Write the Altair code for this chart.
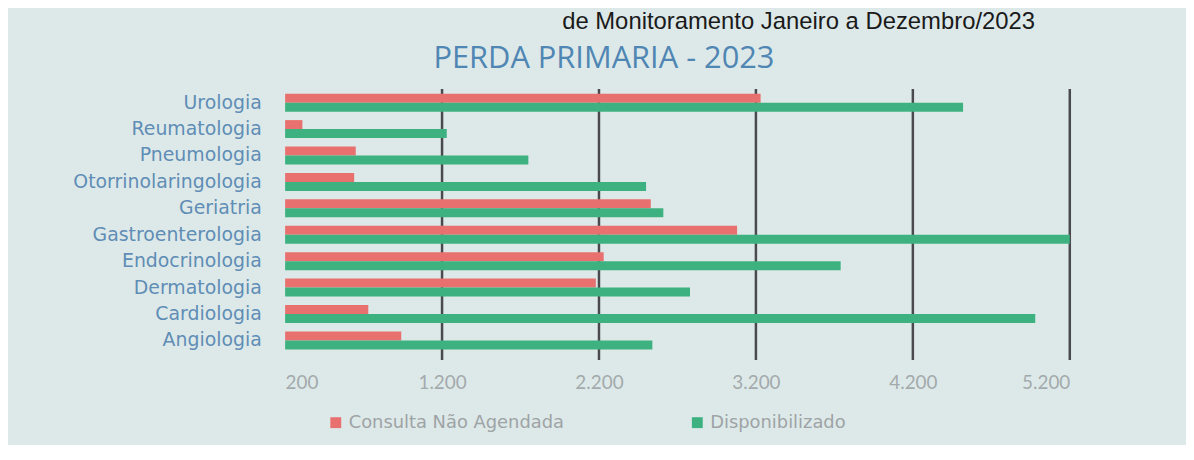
import altair as alt
import pandas as pd

categories = ["Urologia", "Reumatologia", "Pneumologia", "Otorrinolaringologia", "Geriatria",
              "Gastroenterologia", "Endocrinologia", "Dermatologia", "Cardiologia", "Angiologia"]
nao_agendada = [3230, 310, 650, 640, 2530, 3080, 2230, 2180, 730, 940]
disponibilizado = [4520, 1230, 1750, 2500, 2610, 5200, 3740, 2780, 4980, 2540]
series = ["Consulta Não Agendada", "Disponibilizado"]
colors = ["#e8716f", "#3db280"]
tick_values = [200, 1200, 2200, 3200, 4200, 5200]
grid_values = [1200, 2200, 3200, 4200, 5200]
title_text = "PERDA PRIMARIA - 2023"
header_text = "de Monitoramento Janeiro a Dezembro/2023"

rows = []
for c, a, b in zip(categories, nao_agendada, disponibilizado):
    rows.append({"cat": c, "serie": series[0], "v": a})
    rows.append({"cat": c, "serie": series[1], "v": b})
df = pd.DataFrame(rows)
grid_df = pd.DataFrame({"g": grid_values})

W, H = 790, 267

xscale = alt.Scale(domain=[200, 5200], zero=False, nice=False)

bars = alt.Chart(df).mark_bar().encode(
    y=alt.Y("cat:N", sort=categories,
            scale=alt.Scale(paddingInner=0.32, paddingOuter=0.18),
            axis=alt.Axis(title=None, ticks=False, domain=False, labelFontSize=19,
                          labelFont="DejaVu Sans", labelColor="#5f8db5", labelPadding=24,
                          labelLimit=400)),
    yOffset=alt.YOffset("serie:N", sort=series, scale=alt.Scale(paddingInner=0, paddingOuter=0)),
    x=alt.X("v:Q", scale=xscale,
            axis=alt.Axis(title=None, values=tick_values, grid=False, ticks=False, domain=False,
                          labelFontSize=19, labelFont="Lato", labelColor="#a3aaac", labelPadding=20,
                          labelExpr="replace(format(datum.value, ','), ',', '.')")),
    x2=alt.datum(200),
    color=alt.Color("serie:N", sort=series, scale=alt.Scale(domain=series, range=colors),
                    legend=alt.Legend(title=None, orient="none", legendX=42, legendY=327,
                                      direction="horizontal", symbolType="square", symbolSize=120,
                                      symbolStrokeWidth=0, labelFontSize=18, labelFont="DejaVu Sans",
                                      labelColor="#9ea3a5", columnPadding=125, labelOffset=4,
                                      labelLimit=500)),
)

grid = alt.Chart(grid_df).mark_rule(color="#4a4a4e", strokeWidth=2.5).encode(
    x=alt.X("g:Q", scale=xscale),
    y=alt.value(0),
    y2=alt.value(H + 6),
)

header = alt.Chart(pd.DataFrame({"t": [header_text]})).mark_text(
    align="right", baseline="alphabetic", fontSize=24, font="Liberation Sans", color="#1a1a1a"
).encode(text="t:N", x=alt.value(755), y=alt.value(-60))

title = alt.Chart(pd.DataFrame({"t": [title_text]})).mark_text(
    align="center", baseline="middle", fontSize=31, font="Open Sans", color="#4f86b3"
).encode(text="t:N", x=alt.value(321), y=alt.value(-30))

chart = alt.layer(grid, bars, header, title).properties(
    width=W, height=H,
    autosize=alt.AutoSizeParams(type="none"),
    padding={"left": 279, "top": 80, "right": 1186 - 279 - W, "bottom": 437 - 80 - H},
    background="#dde9e9",
).configure_view(stroke=None)

chart.save("out.html", embed_options={"renderer": "svg", "actions": False})
